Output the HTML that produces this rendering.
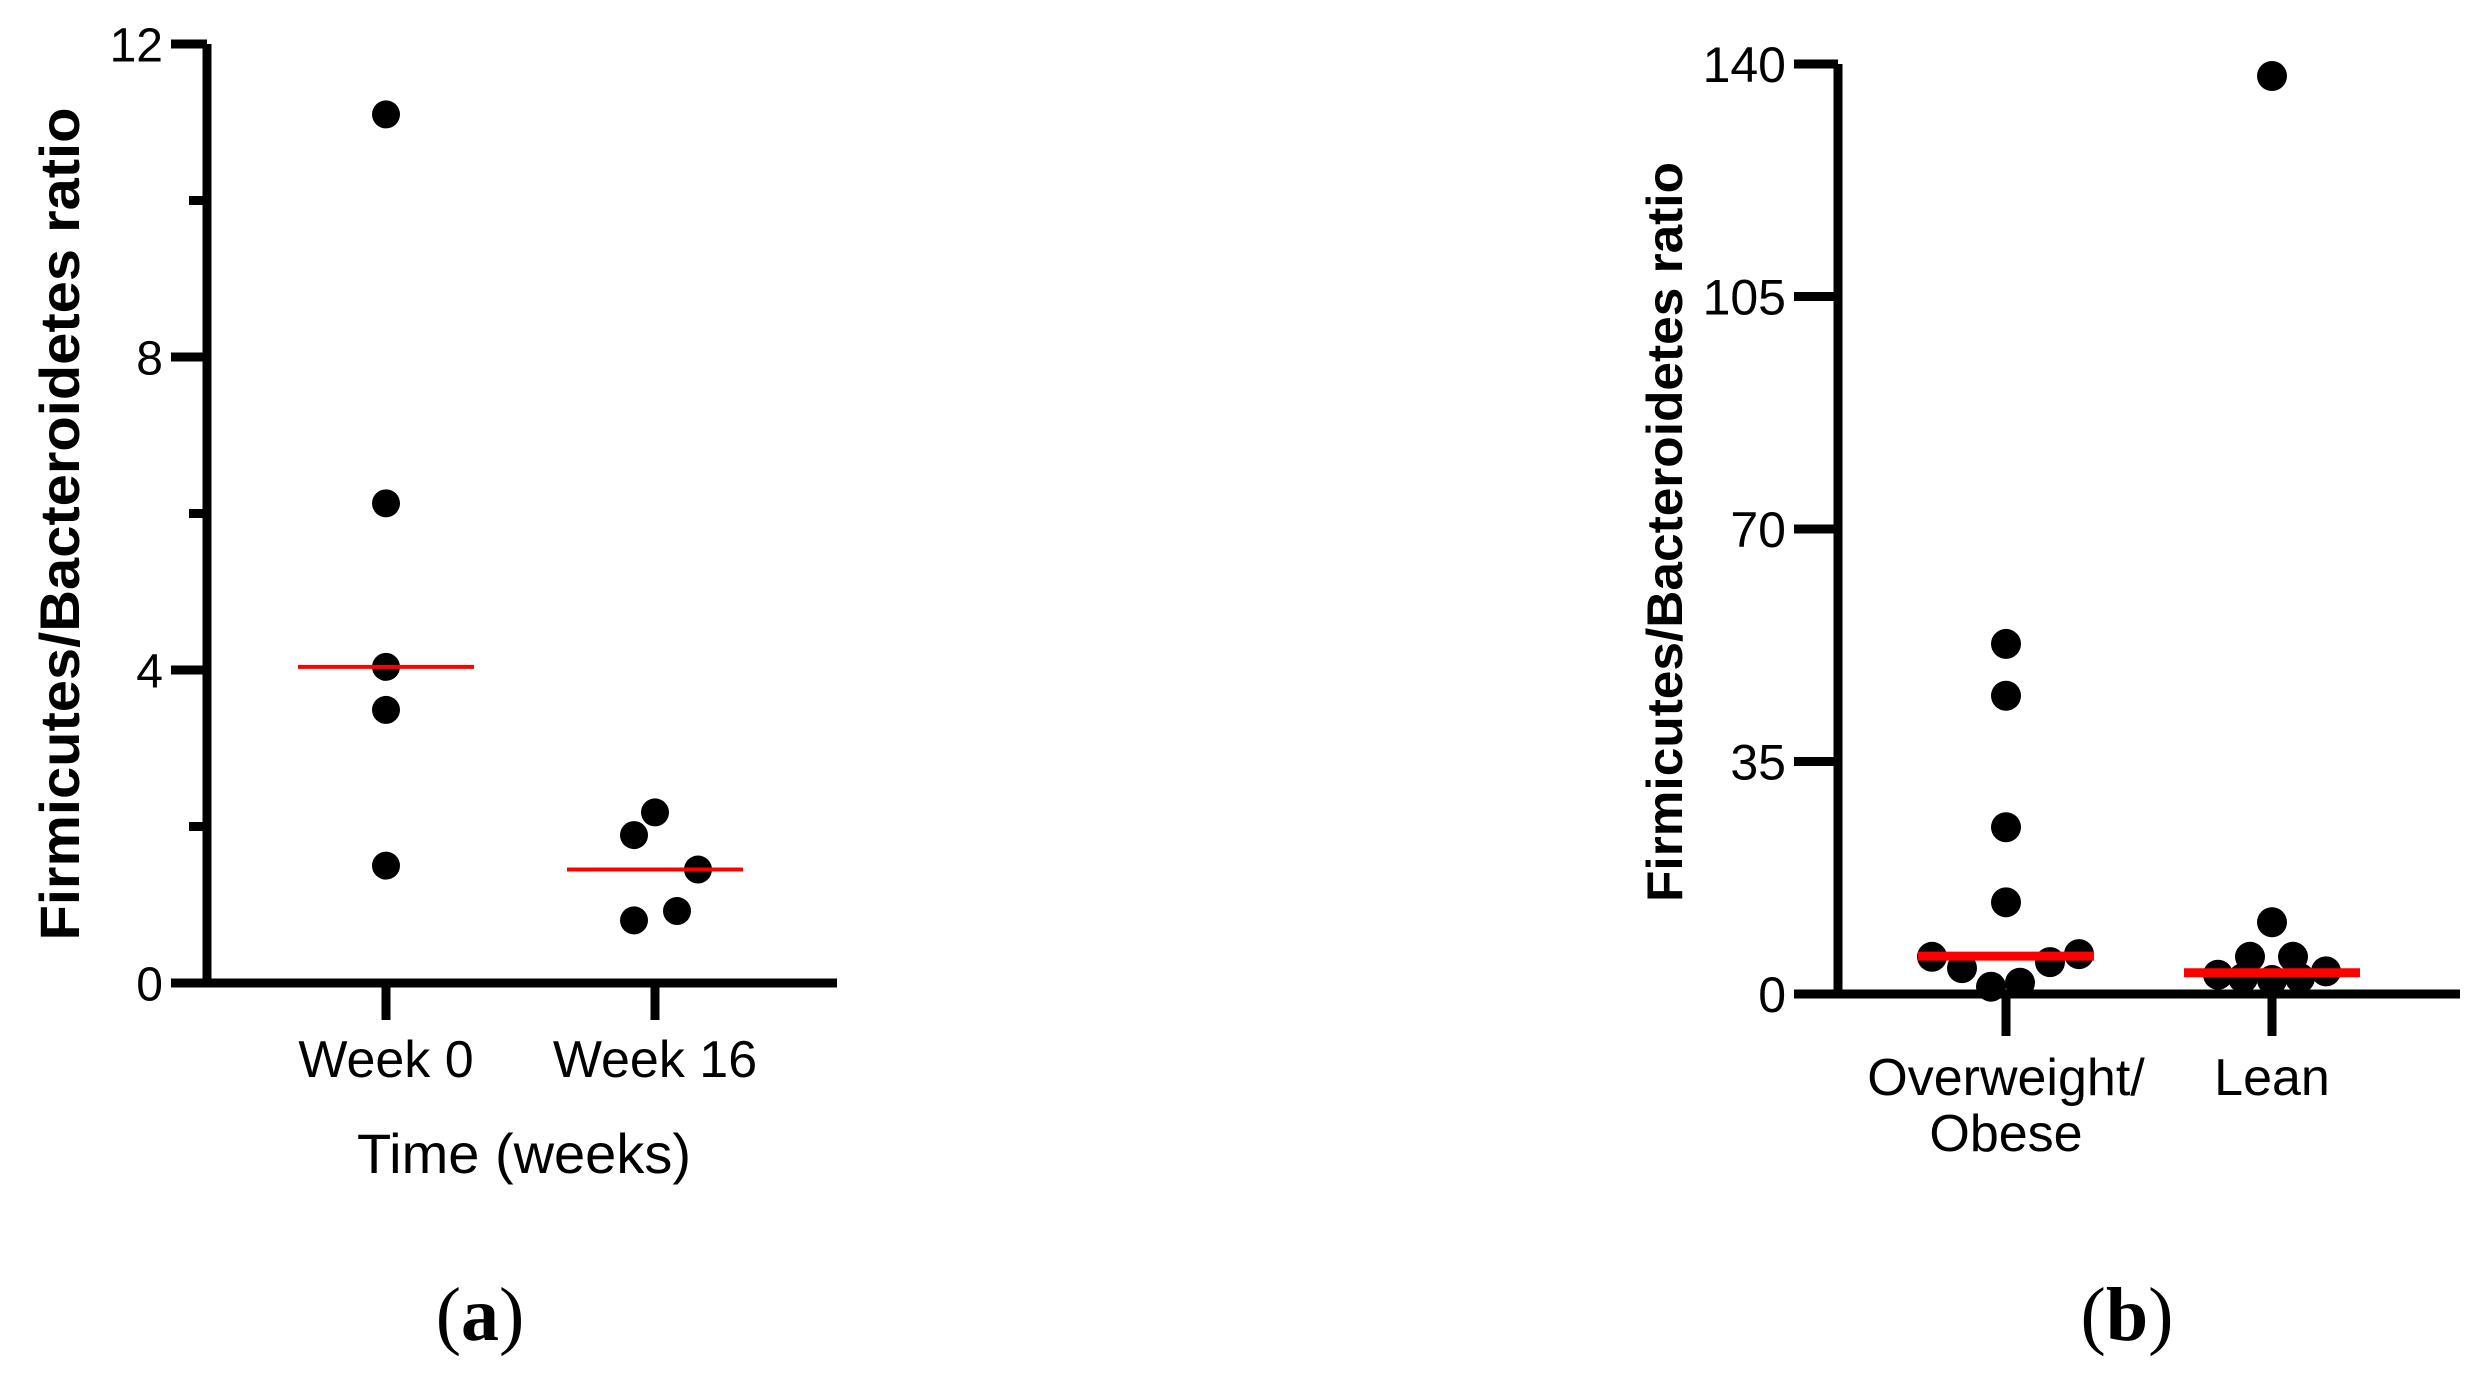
<!DOCTYPE html>
<html><head><meta charset="utf-8"><style>
html,body{margin:0;padding:0;background:#fff;}
svg{display:block;font-family:"Liberation Sans",Arial,sans-serif;}
</style></head><body>
<svg id="fig" width="2480" height="1382" viewBox="0 0 2480 1382">
<g id="chartA"></g>
<g id="chartB"></g>
<text x="480" y="1340" font-family="Liberation Serif,serif" font-size="76" text-anchor="middle">(<tspan font-weight="bold">a</tspan>)</text>
<text x="2127" y="1340" font-family="Liberation Serif,serif" font-size="76" text-anchor="middle">(<tspan font-weight="bold">b</tspan>)</text>
</svg>
<script>
// Panel (a) data
const catsA = ["Week 0", "Week 16"];
const week0Vals = [11.1, 6.13, 4.04, 3.49, 1.5];
const week0Jit = [0, 0, 0, 0, 0];
const week16Vals = [1.89, 2.18, 1.45, 0.92, 0.80];
const week16Jit = [-21, 0, 43, 22, -21];
const mediansA = [4.04, 1.45];
const ticksA = [0, 4, 8, 12];
const minorTicksA = [2, 6, 10];
// Panel (b) data
const catsB = [["Overweight/", "Obese"], ["Lean"]];
const owVals = [52.7, 44.9, 25.1, 13.8, 5.6, 3.9, 1.1, 1.7, 4.8, 6.0];
const owJit = [0, 0, 0, 0, -74, -44, -15, 14, 44, 73];
const leanVals = [138.2, 10.8, 5.6, 5.6, 2.9, 3.4, 2.4, 2.4, 2.1];
const leanJit = [0, 0, -22, 21, -54, 54, -29, 28, 0];
const mediansB = [5.7, 3.2];
const ticksB = [0, 35, 70, 105, 140];

const NS = "http://www.w3.org/2000/svg";
function mk(parent, tag, attrs) {
  const e = document.createElementNS(NS, tag);
  for (const k in attrs) e.setAttribute(k, attrs[k]);
  parent.appendChild(e);
  return e;
}

function drawPanel(g, cfg) {
  const y = v => cfg.y0 - (v - cfg.ymin) / (cfg.ymax - cfg.ymin) * (cfg.y0 - cfg.y1);
  let e = mk(g, "line", {x1: cfg.ax, y1: y(cfg.ymax), x2: cfg.ax, y2: cfg.y0 + cfg.sw/2, stroke: "#000", "stroke-width": cfg.sw});
  
  
  e = mk(g, "line", {x1: cfg.ax - cfg.sw/2, y1: cfg.y0, x2: cfg.xend, y2: cfg.y0, stroke: "#000", "stroke-width": cfg.sw});
  
  
  cfg.ticks.forEach(t => {
    const l = mk(g, "line", {x1: cfg.ax - cfg.tickLen, y1: y(t), x2: cfg.ax, y2: y(t), stroke: "#000", "stroke-width": cfg.sw});
    
    
    const tx = mk(g, "text", {x: cfg.ax - cfg.tickLen - 8, y: y(t) + cfg.tickFont*0.36, "font-size": cfg.tickFont, "text-anchor": "end"});
    tx.textContent = String(t);
    
    
  });
  (cfg.minor || []).forEach(t => {
    const l = mk(g, "line", {x1: cfg.ax - cfg.tickLen/2, y1: y(t), x2: cfg.ax, y2: y(t), stroke: "#000", "stroke-width": cfg.sw});
    
    
  });
  cfg.catX.forEach((cx, i) => {
    const l = mk(g, "line", {x1: cx, y1: cfg.y0, x2: cx, y2: cfg.tickBottom, stroke: "#000", "stroke-width": cfg.sw});
    
    
    const lines = cfg.cats[i];
    lines.forEach((s, j) => {
      const tx = mk(g, "text", {x: cx, y: cfg.catBase + j*cfg.catLine, "font-size": cfg.catFont, "text-anchor": "middle"});
      tx.textContent = s;
      
      
    });
  });
  cfg.series.forEach((s, i) => {
    s.vals.forEach((v, k) => {
      const c = mk(g, "circle", {cx: cfg.catX[i] + s.jit[k], cy: y(v), r: cfg.r, fill: "#000"});
      
      
    });
  });
  cfg.medians.forEach((m, i) => {
    const l = mk(g, "line", {x1: cfg.catX[i] - 88, y1: y(m), x2: cfg.catX[i] + 88, y2: y(m), stroke: "#ff0000", "stroke-width": cfg.medW});
    
    
  });
  const yt = mk(g, "text", {x: 0, y: 0, "font-size": cfg.ytFont, "font-weight": "bold", "text-anchor": "middle",
    transform: `translate(${cfg.ytX},${cfg.ytY}) rotate(-90)`, textLength: cfg.ytLen, lengthAdjust: "spacingAndGlyphs"});
  yt.textContent = "Firmicutes/Bacteroidetes ratio";
  
  
  if (cfg.xTitle) {
    const xt = mk(g, "text", {x: cfg.xTitle.x, y: cfg.xTitle.y, "font-size": cfg.xTitle.font, "text-anchor": "middle"});
    xt.textContent = cfg.xTitle.text;
    
    
  }
}

drawPanel(document.getElementById("chartA"), {
  ax: 207, y0: 983, y1: 44, ymin: 0, ymax: 12, xend: 837, sw: 9, tickLen: 36,
  ticks: ticksA, minor: minorTicksA, tickFont: 48,
  catX: [386, 655], cats: catsA.map(c => [c]), tickBottom: 1020, catBase: 1077, catLine: 0, catFont: 52,
  series: [{vals: week0Vals, jit: week0Jit}, {vals: week16Vals, jit: week16Jit}],
  medians: mediansA, medW: 4, r: 14,
  ytX: 79, ytY: 524, ytFont: 56, ytLen: 833,
  xTitle: {x: 524, y: 1173, font: 56, text: "Time (weeks)"}
});
drawPanel(document.getElementById("chartB"), {
  ax: 1838, y0: 994, y1: 64, ymin: 0, ymax: 140, xend: 2460, sw: 9, tickLen: 44,
  ticks: ticksB, tickFont: 50,
  catX: [2006, 2272], cats: catsB, tickBottom: 1036, catBase: 1095, catLine: 56, catFont: 52,
  series: [{vals: owVals, jit: owJit}, {vals: leanVals, jit: leanJit}],
  medians: mediansB, medW: 9, r: 15,
  ytX: 1682, ytY: 532, ytFont: 50, ytLen: 740
});
</script>
</body></html>
